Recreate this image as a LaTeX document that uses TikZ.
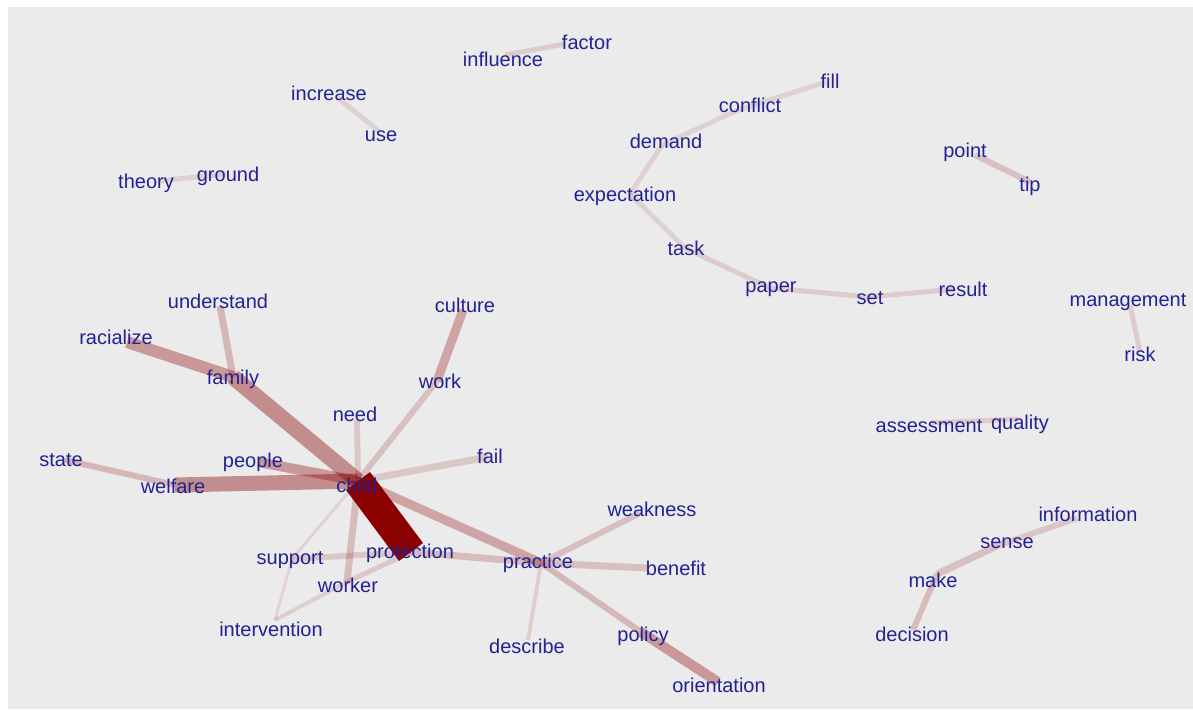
\documentclass[tikz,border=0pt]{standalone}
\usepackage{fontspec}
\setmainfont{Liberation Sans}
\definecolor{panel}{RGB}{235,235,235}
\definecolor{edgered}{RGB}{139,0,0}
\definecolor{wordblue}{RGB}{34,34,148}
\tikzset{
  lbl/.style={text=wordblue, inner sep=0pt, font=\fontsize{20}{22}\selectfont},
  e/.style 2 args={draw=edgered, line width=#1pt, draw opacity=#2},
}
\begin{document}
\begin{tikzpicture}[x=1pt,y=-1pt]
\useasboundingbox (0,0) rectangle (1193,709);
\fill[white] (0,0) rectangle (1193,709);
\fill[panel] (8,7) rectangle (1193,709);

% graph vertices
\coordinate (v-factor) at (565,44);
\coordinate (v-influence) at (505,55);
\coordinate (v-fill) at (826,82);
\coordinate (v-conflict) at (738,110);
\coordinate (v-increase) at (338,98);
\coordinate (v-use) at (380,132);
\coordinate (v-demand) at (662,145);
\coordinate (v-point) at (975,155);
\coordinate (v-tip) at (1030,182);
\coordinate (v-theory) at (158,181);
\coordinate (v-ground) at (226,174);
\coordinate (v-expectation) at (630,194);
\coordinate (v-task) at (685,248);
\coordinate (v-paper) at (770,288);
\coordinate (v-set) at (870,297);
\coordinate (v-result) at (955,289);
\coordinate (v-management) at (1130,305);
\coordinate (v-risk) at (1140,352);
\coordinate (v-understand) at (220,306);
\coordinate (v-culture) at (463,310);
\coordinate (v-racialize) at (127,342);
\coordinate (v-family) at (233,377);
\coordinate (v-work) at (437,381);
\coordinate (v-need) at (357,420);
\coordinate (v-assessment) at (930,423);
\coordinate (v-quality) at (1018,419);
\coordinate (v-state) at (65,460);
\coordinate (v-people) at (258,462);
\coordinate (v-fail) at (488,457);
\coordinate (v-welfare) at (175,485);
\coordinate (v-child) at (358,481);
\coordinate (v-weakness) at (640,513);
\coordinate (v-information) at (1077,518);
\coordinate (v-sense) at (997,546);
\coordinate (v-support) at (292,559);
\coordinate (v-protection) at (411,552);
\coordinate (v-practice) at (541,563);
\coordinate (v-benefit) at (647,568);
\coordinate (v-worker) at (347,582);
\coordinate (v-make) at (937,574);
\coordinate (v-intervention) at (275,620);
\coordinate (v-policy) at (641,632);
\coordinate (v-decision) at (913,630);
\coordinate (v-describe) at (528,640);
\coordinate (v-orientation) at (718,682);

% weighted co-occurrence edges
\draw[e={5}{0.13}] (v-influence) -- (v-factor);
\draw[e={5}{0.11}] (v-increase) -- (v-use);
\draw[e={5}{0.11}] (v-theory) -- (v-ground);
\draw[e={5}{0.11}] (v-conflict) -- (v-fill);
\draw[e={5}{0.11}] (v-demand) -- (v-conflict);
\draw[e={5}{0.11}] (v-expectation) -- (v-demand);
\draw[e={5}{0.11}] (v-expectation) -- (v-task);
\draw[e={5}{0.13}] (v-task) -- (v-paper);
\draw[e={5}{0.13}] (v-paper) -- (v-set);
\draw[e={5}{0.13}] (v-set) -- (v-result);
\draw[e={6}{0.18}] (v-point) -- (v-tip);
\draw[e={5}{0.13}] (v-management) -- (v-risk);
\draw[e={5}{0.13}] (v-assessment) -- (v-quality);
\draw[e={6}{0.16}] (v-information) -- (v-sense);
\draw[e={7}{0.18}] (v-sense) -- (v-make);
\draw[e={6}{0.2}] (v-make) -- (v-decision);

\draw[e={3}{0.1}] (v-child) -- (v-support);
\draw[e={3}{0.1}] (v-support) -- (v-intervention);
\draw[e={4}{0.12}] (v-intervention) -- (v-worker);
\draw[e={5}{0.15}] (v-worker) -- (v-protection);
\draw[e={6}{0.15}] (v-support) -- (v-protection);
\draw[e={7}{0.2}] (v-child) -- (v-worker);
\draw[e={7}{0.2}] (v-protection) -- (v-practice);
\draw[e={4}{0.12}] (v-practice) -- (v-describe);
\draw[e={6}{0.18}] (v-practice) -- (v-weakness);
\draw[e={7}{0.18}] (v-practice) -- (v-benefit);
\draw[e={6}{0.22}] (v-practice) -- (v-policy);
\draw[e={10}{0.35}] (v-policy) -- (v-orientation);
\draw[e={9}{0.3}] (v-child) -- (v-practice);
\draw[e={6}{0.15}] (v-child) -- (v-need);
\draw[e={7}{0.15}] (v-child) -- (v-fail);
\draw[e={6}{0.18}] (v-child) -- (v-work);
\draw[e={9}{0.3}] (v-work) -- (v-culture);
\draw[e={7}{0.22}] (v-understand) -- (v-family);
\draw[e={12}{0.35}] (v-racialize) -- (v-family);
\draw[e={16}{0.4}] (v-family) -- (v-child);
\draw[e={10}{0.35}] (v-people) -- (v-child);
\draw[e={6}{0.22}] (v-state) -- (v-welfare);
\draw[e={15}{0.4}] (v-welfare) -- (v-child);
\draw[e={30}{1}] (v-child) -- (v-protection);

% word labels
\node[lbl] (factor) at (587,42) {factor};
\node[lbl] (influence) at (503,59) {influence};
\node[lbl] (fill) at (830,81) {fill};
\node[lbl] (conflict) at (750,105) {conflict};
\node[lbl] (increase) at (329,93) {increase};
\node[lbl] (use) at (381,136) {use};
\node[lbl] (demand) at (666,141) {demand};
\node[lbl] (point) at (965,152) {point};
\node[lbl] (tip) at (1030,186) {tip};
\node[lbl] (theory) at (146,183) {theory};
\node[lbl] (ground) at (228,176) {ground};
\node[lbl] (expectation) at (625,196) {expectation};
\node[lbl] (task) at (686,248) {task};
\node[lbl] (paper) at (771,289) {paper};
\node[lbl] (set) at (870,298) {set};
\node[lbl] (result) at (963,289) {result};
\node[lbl] (management) at (1128,302) {management};
\node[lbl] (risk) at (1140,354) {risk};
\node[lbl] (understand) at (218,301) {understand};
\node[lbl] (culture) at (465,305) {culture};
\node[lbl] (racialize) at (116,337) {racialize};
\node[lbl] (family) at (233,379) {family};
\node[lbl] (work) at (440,381) {work};
\node[lbl] (need) at (355,414) {need};
\node[lbl] (assessment) at (929,426) {assessment};
\node[lbl] (quality) at (1020,424) {quality};
\node[lbl] (state) at (61,460) {state};
\node[lbl] (people) at (253,462) {people};
\node[lbl] (fail) at (490,456) {fail};
\node[lbl] (welfare) at (173,486) {welfare};
\node[lbl] (child) at (357,485) {child};
\node[lbl] (weakness) at (652,509) {weakness};
\node[lbl] (information) at (1088,514) {information};
\node[lbl] (sense) at (1007,543) {sense};
\node[lbl] (support) at (290,560) {support};
\node[lbl] (protection) at (410,553) {protection};
\node[lbl] (practice) at (538,563) {practice};
\node[lbl] (benefit) at (676,568) {benefit};
\node[lbl] (worker) at (348,585) {worker};
\node[lbl] (make) at (933,580) {make};
\node[lbl] (intervention) at (271,629) {intervention};
\node[lbl] (policy) at (643,636) {policy};
\node[lbl] (decision) at (912,634) {decision};
\node[lbl] (describe) at (527,646) {describe};
\node[lbl] (orientation) at (719,685) {orientation};
\end{tikzpicture}
\end{document}
